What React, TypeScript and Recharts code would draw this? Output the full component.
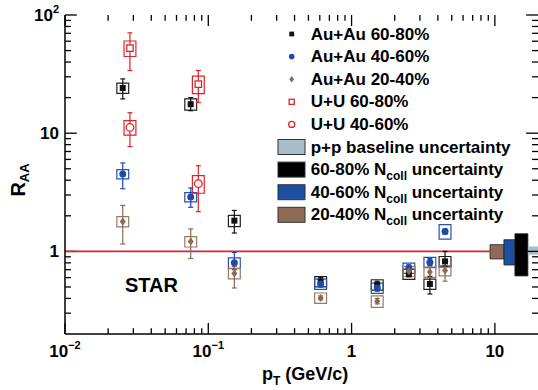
import React from 'react';
import {
  ErrorBar,
  ReferenceArea,
  ReferenceLine,
  Scatter,
  ScatterChart,
  XAxis,
  YAxis,
} from 'recharts';

// Au+Au 60-80%
const auau6080X = [0.0253, 0.0754, 0.152, 0.608, 1.51, 2.51, 3.52, 4.49];
const auau6080Y = [24.1, 17.6, 1.82, 0.557, 0.523, 0.644, 0.53, 0.823];
const auau6080Lo = [19.5, 15.5, 1.43, 0.52, 0.49, 0.61, 0.436, 0.75];
const auau6080Hi = [28.8, 20.0, 2.22, 0.6, 0.56, 0.68, 0.615, 1.0];
const auau6080Sys = [0.1, 0.11, 0.11, 0.1, 0.1, 0.1, 0.1, 0.1];

// Au+Au 40-60%
const auau4060X = [0.0253, 0.0754, 0.152, 0.608, 1.51, 2.51, 3.52, 4.49];
const auau4060Y = [4.51, 2.88, 0.8, 0.53, 0.49, 0.724, 0.81, 1.476];
const auau4060Lo = [3.39, 2.36, 0.7, 0.5, 0.46, 0.68, 0.76, 1.4];
const auau4060Hi = [5.6, 3.44, 0.98, 0.57, 0.53, 0.77, 0.87, 1.55];
const auau4060Sys = [0.09, 0.09, 0.1, 0.1, 0.1, 0.1, 0.1, 0.14];

// Au+Au 20-40%
const auau2040X = [0.0253, 0.0754, 0.152, 0.608, 1.51, 2.51, 3.52, 4.49];
const auau2040Y = [1.79, 1.21, 0.65, 0.404, 0.378, 0.678, 0.67, 0.69];
const auau2040Lo = [1.155, 0.87, 0.49, 0.39, 0.36, 0.64, 0.6, 0.56];
const auau2040Hi = [2.45, 1.55, 0.746, 0.42, 0.4, 0.72, 0.74, 0.8];
const auau2040Sys = [0.1, 0.1, 0.1, 0.1, 0.11, 0.1, 0.1, 0.1];

// U+U 60-80%
const uu6080X = [0.0284, 0.0852];
const uu6080Y = [52.4, 26.0];
const uu6080Lo = [33.9, 18.2];
const uu6080Hi = [70.6, 33.9];
const uu6080Sys = [0.15, 0.17];

// U+U 40-60%
const uu4060X = [0.0284, 0.0852];
const uu4060Y = [11.2, 3.74];
const uu4060Lo = [7.7, 2.17];
const uu4060Hi = [14.9, 5.3];
const uu4060Sys = [0.14, 0.17];

// normalisation uncertainty boxes at the right edge
const normLabels = ['20-40%', '40-60%', '60-80%', 'p+p'];
const normXLo = [9.25, 11.57, 13.8, 17.0];
const normXHi = [11.57, 13.8, 17.0, 20];
const normYLo = [0.863, 0.767, 0.62, 0.938];
const normYHi = [1.14, 1.256, 1.41, 1.1];
const normColors = ['#8e6b58', '#1d4fa3', '#000000', '#a9bec8'];

// axis ticks
const X_MIN = 0.01;
const X_MAX = 20;
const Y_MIN = 0.2;
const Y_MAX = 100;
const xMajor = [0.01, 0.1, 1, 10];
const xMinor = [
  0.02, 0.03, 0.04, 0.05, 0.06, 0.07, 0.08, 0.09,
  0.2, 0.3, 0.4, 0.5, 0.6, 0.7, 0.8, 0.9,
  2, 3, 4, 5, 6, 7, 8, 9,
];
const yMajor = [1, 10, 100];
const yMinor = [
  0.3, 0.4, 0.5, 0.6, 0.7, 0.8, 0.9,
  2, 3, 4, 5, 6, 7, 8, 9,
  20, 30, 40, 50, 60, 70, 80, 90,
];

const RED = '#d9262b';
const BLUE = '#1f4aa8';
const BROWN = '#8c6a55';
const BLACK = '#111111';

const FONT = '"Liberation Sans", Arial, Helvetica, sans-serif';

const makeData = (xs: number[], ys: number[], lo: number[], hi: number[]) =>
  xs.map((x, i) => ({ x, y: ys[i], err: [ys[i] - lo[i], hi[i] - ys[i]] }));

const series = [
  { name: 'Au+Au 60-80%', color: BLACK, box: '#222', data: makeData(auau6080X, auau6080Y, auau6080Lo, auau6080Hi), sys: auau6080Sys, marker: 'square' },
  { name: 'Au+Au 40-60%', color: BLUE, box: '#2a4fb0', data: makeData(auau4060X, auau4060Y, auau4060Lo, auau4060Hi), sys: auau4060Sys, marker: 'circle' },
  { name: 'Au+Au 20-40%', color: BROWN, box: '#9a7a66', data: makeData(auau2040X, auau2040Y, auau2040Lo, auau2040Hi), sys: auau2040Sys, marker: 'diamond' },
  { name: 'U+U 60-80%', color: RED, box: RED, data: makeData(uu6080X, uu6080Y, uu6080Lo, uu6080Hi), sys: uu6080Sys, marker: 'openSquare' },
  { name: 'U+U 40-60%', color: RED, box: RED, data: makeData(uu4060X, uu4060Y, uu4060Lo, uu4060Hi), sys: uu4060Sys, marker: 'openCircle' },
];

// tick marks as short reference segments (length as a ratio on the log axes)
const tickSegments: { key: string; seg: { x: number; y: number }[] }[] = [];
[...xMajor.map(v => [v, true] as const), ...xMinor.map(v => [v, false] as const)].forEach(([v, major]) => {
  const f = major ? 1.24 : 1.12;
  tickSegments.push({ key: `xb${v}`, seg: [{ x: v, y: Y_MIN }, { x: v, y: Y_MIN * f }] });
  tickSegments.push({ key: `xt${v}`, seg: [{ x: v, y: Y_MAX }, { x: v, y: Y_MAX / f }] });
});
[...yMajor.map(v => [v, true] as const), ...yMinor.map(v => [v, false] as const)].forEach(([v, major]) => {
  const g = major ? 1.21 : 1.1;
  tickSegments.push({ key: `yl${v}`, seg: [{ x: X_MIN, y: v }, { x: X_MIN * g, y: v }] });
  tickSegments.push({ key: `yr${v}`, seg: [{ x: X_MAX, y: v }, { x: X_MAX / g, y: v }] });
});

function Marker({ type, cx, cy, color, s = 1 }: any) {
  if (type === 'square') return <rect x={cx - 3 * s} y={cy - 3 * s} width={6 * s} height={6 * s} fill={color} />;
  if (type === 'circle') return <circle cx={cx} cy={cy} r={3.5 * s} fill={color} />;
  if (type === 'diamond')
    return <polygon points={`${cx},${cy - 4 * s} ${cx + 3 * s},${cy} ${cx},${cy + 4 * s} ${cx - 3 * s},${cy}`} fill={color} />;
  if (type === 'openSquare')
    return <rect x={cx - 3.2 * s} y={cy - 3.2 * s} width={6.4 * s} height={6.4 * s} fill="#fff" stroke={color} strokeWidth={1.3} />;
  return <circle cx={cx} cy={cy} r={3.8 * s} fill="#fff" stroke={color} strokeWidth={1.3} />;
}

function PowLabel({ x, y, v, anchor }: any) {
  const e = Math.round(Math.log10(v));
  return (
    <text x={x} y={y} textAnchor={anchor} fontFamily={FONT} fontWeight="bold" fontSize={17} fill="#000">
      {e === 0 ? '1' : '10'}
      {e !== 0 && e !== 1 && (
        <tspan dy={-8} fontSize={11}>
          {e < 0 ? `\u2212${-e}` : `${e}`}
        </tspan>
      )}
    </text>
  );
}

const BottomLabel = ({ x, y, payload }: any) => <PowLabel x={x} y={y + 23} v={payload.value} anchor="middle" />;
const LeftLabel = ({ x, y, payload }: any) => <PowLabel x={x - 6} y={y + 6} v={payload.value} anchor="end" />;
const NoLabel = () => null;

const frame = { stroke: '#000', strokeWidth: 1.5 };
const xCommon = { dataKey: 'x', type: 'number' as const, scale: 'log' as const, domain: [X_MIN, X_MAX], allowDataOverflow: true, interval: 0 as const };
const yCommon = { dataKey: 'y', type: 'number' as const, scale: 'log' as const, domain: [Y_MIN, Y_MAX], allowDataOverflow: true, interval: 0 as const };

const legendTop = 39.5;
const legendStep = 22.6;
const swatchRows = [
  { fill: '#a9bec8', pre: 'p+p baseline uncertainty', sub: '', post: '' },
  { fill: '#000000', pre: '60-80% N', sub: 'coll', post: ' uncertainty' },
  { fill: '#1d4fa3', pre: '40-60% N', sub: 'coll', post: ' uncertainty' },
  { fill: '#8e6b58', pre: '20-40% N', sub: 'coll', post: ' uncertainty' },
];

function Overlay() {
  const textProps = { fontFamily: FONT, fontWeight: 'bold' as const, fill: '#000' };
  return (
    <svg width={538} height={390} style={{ position: 'absolute', left: 0, top: 0, pointerEvents: 'none' }}>
      {series.map((s, i) => {
        const by = legendTop + i * legendStep;
        return (
          <g key={s.name}>
            <Marker type={s.marker} cx={291.7} cy={by - 5.5} color={s.color} s={0.8} />
            <text x={310.7} y={by} fontSize={17} {...textProps}>
              {s.name}
            </text>
          </g>
        );
      })}
      {swatchRows.map((r, i) => {
        const by = legendTop + (i + 5) * legendStep;
        return (
          <g key={r.pre}>
            <rect x={278} y={by - 13} width={27} height={15} fill={r.fill} stroke="#333" strokeWidth={1} />
            <text x={310.7} y={by} fontSize={17} {...textProps}>
              {r.pre}
              {r.sub && (
                <tspan dy={5} fontSize={12}>
                  {r.sub}
                </tspan>
              )}
              {r.post && <tspan dy={r.sub ? -5 : 0}>{r.post}</tspan>}
            </text>
          </g>
        );
      })}
      <text x={125} y={292} fontSize={20} {...textProps}>
        STAR
      </text>
      <text transform="translate(25,180) rotate(-90)" textAnchor="middle" fontSize={20} {...textProps}>
        R
        <tspan dy={4} fontSize={13}>
          AA
        </tspan>
      </text>
      <text x={262} y={380} fontSize={18} {...textProps}>
        p
        <tspan dy={5} fontSize={12}>
          T
        </tspan>
        <tspan dy={-5}> (GeV/c)</tspan>
      </text>
    </svg>
  );
}

export default function App() {
  return (
    <div
      style={{
        position: 'absolute',
        left: 0,
        top: 0,
        width: 538,
        height: 390,
        overflow: 'hidden',
        background: '#fff',
      }}
    >
      <ScatterChart width={538} height={390} margin={{ top: 15, right: 0, bottom: 0, left: 0 }}>
        <XAxis {...xCommon} ticks={xMajor} height={56} tickSize={0} tickMargin={0} tickLine={false} tick={<BottomLabel />} axisLine={frame} />
        <XAxis {...xCommon} xAxisId="top" orientation="top" ticks={xMajor} height={0} tickSize={0} tickLine={false} tick={<NoLabel />} axisLine={frame} />
        <YAxis {...yCommon} ticks={yMajor} width={65} tickSize={0} tickMargin={0} tickLine={false} tick={<LeftLabel />} axisLine={frame} />
        <YAxis {...yCommon} yAxisId="right" orientation="right" ticks={yMajor} width={0} tickSize={0} tickLine={false} tick={<NoLabel />} axisLine={frame} />

        {tickSegments.map(t => (
          <ReferenceLine key={t.key} segment={t.seg} stroke="#000" strokeWidth={1.3} ifOverflow="visible" />
        ))}

        <ReferenceLine
          segment={[
            { x: X_MIN, y: 1 },
            { x: normXLo[0], y: 1 },
          ]}
          stroke={RED}
          strokeWidth={1.6}
          ifOverflow="visible"
        />
        {normLabels.map((n, i) => (
          <ReferenceArea
            key={n}
            x1={normXLo[i]}
            x2={normXHi[i]}
            y1={normYLo[i]}
            y2={normYHi[i]}
            fill={normColors[i]}
            fillOpacity={1}
            stroke={i === 3 ? 'none' : '#222'}
            strokeWidth={0.8}
            ifOverflow="visible"
          />
        ))}
        {series.map(s =>
          s.data.map((d, i) => (
            <ReferenceArea
              key={`${s.name}-box-${i}`}
              x1={d.x / 1.1}
              x2={d.x * 1.1}
              y1={d.y * (1 - s.sys[i])}
              y2={d.y * (1 + s.sys[i])}
              fill="none"
              fillOpacity={0}
              stroke={s.box}
              strokeWidth={1.2}
              ifOverflow="visible"
            />
          )),
        )}
        {series.map(s => (
          <Scatter
            key={s.name}
            name={s.name}
            data={s.data}
            isAnimationActive={false}
            shape={(p: any) => <Marker type={s.marker} cx={p.cx} cy={p.cy} color={s.color} />}
          >
            <ErrorBar dataKey="err" direction="y" width={2.5} stroke={s.color} strokeWidth={1.2} isAnimationActive={false} />
          </Scatter>
        ))}
      </ScatterChart>
      <Overlay />
    </div>
  );
}
